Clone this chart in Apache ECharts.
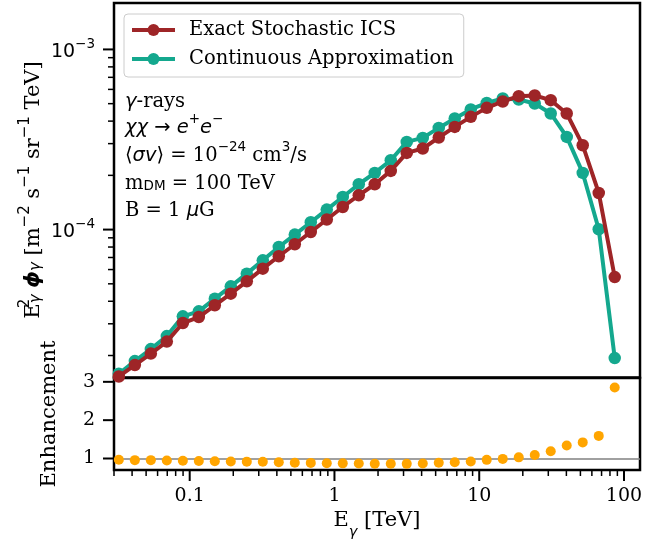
<!DOCTYPE html>
<html><head><meta charset="utf-8">
<script src="https://cdn.jsdelivr.net/npm/echarts@6/dist/echarts.min.js"></script>
<style>html,body{margin:0;padding:0;background:#fff}#c{width:667px;height:541px}</style>
</head><body><div id="c"></div>
<script>
// ---- data ----
const energies = [0.0324, 0.0418, 0.0539, 0.0695, 0.0897, 0.1156, 0.1491, 0.1923, 0.248, 0.3199, 0.4125, 0.5321, 0.6862, 0.885, 1.141, 1.472, 1.898, 2.449, 3.158, 4.074, 5.254, 6.776, 8.74, 11.27, 14.54, 18.75, 24.18, 31.19, 40.23, 51.88, 66.92, 86.3];
const exactICS = [1.53e-5, 1.77e-5, 2.05e-5, 2.39e-5, 3.03e-5, 3.27e-5, 3.80e-5, 4.41e-5, 5.16e-5, 6.07e-5, 7.11e-5, 8.29e-5, 9.70e-5, 1.137e-4, 1.335e-4, 1.551e-4, 1.785e-4, 2.117e-4, 2.665e-4, 2.818e-4, 3.244e-4, 3.715e-4, 4.223e-4, 4.738e-4, 5.141e-4, 5.503e-4, 5.552e-4, 5.227e-4, 4.41e-4, 2.94e-4, 1.597e-4, 5.45e-5];
const continuousApprox = [1.585e-5, 1.862e-5, 2.172e-5, 2.563e-5, 3.299e-5, 3.516e-5, 4.136e-5, 4.842e-5, 5.694e-5, 6.751e-5, 8.003e-5, 9.38e-5, 1.098e-4, 1.291e-4, 1.517e-4, 1.785e-4, 2.063e-4, 2.427e-4, 3.066e-4, 3.228e-4, 3.667e-4, 4.137e-4, 4.642e-4, 5.05e-4, 5.343e-4, 5.275e-4, 5.012e-4, 4.41e-4, 3.269e-4, 2.063e-4, 1.004e-4, 1.935e-5];
const enhancement = [0.966, 0.957, 0.957, 0.95, 0.94, 0.935, 0.93, 0.92, 0.918, 0.915, 0.9, 0.89, 0.885, 0.875, 0.873, 0.868, 0.865, 0.862, 0.86, 0.87, 0.89, 0.9, 0.92, 0.965, 0.99, 1.03, 1.09, 1.19, 1.34, 1.42, 1.59, 2.85];
const seriesNames = ['Exact Stochastic ICS', 'Continuous Approximation'];
const xMajorTicks = [0.1, 1, 10, 100];
const xMinorTicks = [0.03, 0.04, 0.05, 0.06, 0.07, 0.08, 0.09, 0.2, 0.3, 0.4, 0.5, 0.6, 0.7, 0.8, 0.9, 2, 3, 4, 5, 6, 7, 8, 9, 20, 30, 40, 50, 60, 70, 80, 90];
const yMajorTicks = [1e-4, 1e-3];
const yMinorTicks = [2e-5, 3e-5, 4e-5, 5e-5, 6e-5, 7e-5, 8e-5, 9e-5, 2e-4, 3e-4, 4e-4, 5e-4, 6e-4, 7e-4, 8e-4, 9e-4];
const enhTicks = [1, 2, 3];

const X_MIN = 0.03, X_MAX = 129;
const Y_MIN = 1.51e-5, Y_MAX = 1.81e-3;
const E_MIN = 0.7, E_MAX = 3.1;

const RED = '#9e2527';
const TEAL = '#14a88e';
const ORANGE = '#ffa500';
const SERIF = 'DejaVu Serif';
const SANS = 'DejaVu Sans';

function tickSeries(xi, yi, data, dir, len, w) {
  return {
    type: 'custom', xAxisIndex: xi, yAxisIndex: yi, silent: true, clip: false, z: 20,
    data: data,
    renderItem: function (params, api) {
      const p = api.coord([api.value(0), api.value(1)]);
      const x2 = dir === 'down' ? p[0] : p[0] - len;
      const y2 = dir === 'down' ? p[1] + len : p[1];
      return { type: 'line', shape: { x1: p[0], y1: p[1], x2: x2, y2: y2 }, style: { stroke: '#000', lineWidth: w } };
    }
  };
}

const chart = echarts.init(document.getElementById('c'), null, { renderer: 'canvas' });

const richMath = {
  r: { fontFamily: SERIF, fontSize: 19.5, color: '#000', lineHeight: 25, verticalAlign: 'bottom' },
  i: { fontFamily: SANS, fontStyle: 'italic', fontSize: 19.5, color: '#000', lineHeight: 25, verticalAlign: 'bottom' },
  n: { fontFamily: SANS, fontSize: 19.5, color: '#000', lineHeight: 25, verticalAlign: 'bottom' },
  sup: { fontFamily: SANS, fontSize: 13.5, color: '#000', lineHeight: 14, verticalAlign: 'top' },
  sub: { fontFamily: SANS, fontSize: 13.5, color: '#000', lineHeight: 12, verticalAlign: 'bottom' }
};

const option = {
  animation: false,
  backgroundColor: '#fff',
  grid: [
    { left: 114, top: 3, width: 526, height: 374.5, show: true, borderColor: '#000', borderWidth: 2.5, backgroundColor: 'transparent', containLabel: false },
    { left: 114, top: 378, width: 526, height: 92.5, show: true, borderColor: '#000', borderWidth: 2.5, backgroundColor: 'transparent', containLabel: false }
  ],
  xAxis: [
    { type: 'log', gridIndex: 0, min: X_MIN, max: X_MAX, axisLine: { show: false }, axisTick: { show: false }, axisLabel: { show: false }, splitLine: { show: false } },
    {
      type: 'log', gridIndex: 1, min: X_MIN, max: X_MAX,
      axisLine: { show: false }, axisTick: { show: false }, splitLine: { show: false },
      axisLabel: { fontFamily: SERIF, fontSize: 19, color: '#000', margin: 17, showMinLabel: false, showMaxLabel: false,
        formatter: function (v) { return String(+(+v).toPrecision(6)); } },
      name: '{r|E}{s|γ}{r| [TeV]}', nameLocation: 'middle', nameGap: 40,
      nameTextStyle: { rich: {
        r: { fontFamily: SERIF, fontSize: 21, color: '#000', lineHeight: 26, verticalAlign: 'top' },
        s: { fontFamily: SANS, fontStyle: 'italic', fontSize: 14.5, color: '#000', lineHeight: 30, verticalAlign: 'bottom' }
      } }
    }
  ],
  yAxis: [
    {
      type: 'log', gridIndex: 0, min: Y_MIN, max: Y_MAX,
      axisLine: { show: false }, axisTick: { show: false }, splitLine: { show: false },
      axisLabel: { margin: 19, showMinLabel: false, showMaxLabel: false,
        formatter: function (v) { const p = Math.round(Math.log10(v)); return '{b|10}{s|' + (p < 0 ? '−' : '') + Math.abs(p) + '}'; },
        rich: {
          b: { fontFamily: SANS, fontSize: 19, color: '#000', lineHeight: 24, verticalAlign: 'bottom' },
          s: { fontFamily: SANS, fontSize: 13.5, color: '#000', lineHeight: 14, verticalAlign: 'top' }
        } }
    },
    {
      type: 'value', gridIndex: 1, min: E_MIN, max: E_MAX,
      axisLine: { show: false }, axisTick: { show: false }, splitLine: { show: false },
      axisLabel: { customValues: enhTicks, margin: 19, fontFamily: SERIF, fontSize: 19, color: '#000' }
    }
  ],
  legend: {
    data: seriesNames,
    orient: 'vertical', left: 124, top: 14,
    padding: [6, 10, 8, 6], itemWidth: 43, itemHeight: 15, itemGap: 9,
    backgroundColor: 'rgba(255,255,255,0.8)', borderColor: '#cccccc', borderWidth: 1, borderRadius: 4,
    lineStyle: { width: 4 },
    textStyle: { fontFamily: SERIF, fontSize: 19.5, color: '#000', lineHeight: 15, padding: [0, 0, 0, 9] }
  },
  graphic: [
    { type: 'text', x: 125, y: 99, style: { text: '{i|γ}{r|-rays}', verticalAlign: 'middle', rich: richMath } },
    { type: 'text', x: 125, y: 125, style: { text: '{i|χχ}{n| → }{i|e}{sup|+}{i|e}{sup|−}', verticalAlign: 'middle', rich: richMath } },
    { type: 'text', x: 125, y: 153, style: { text: '{n|⟨}{i|σv}{n|⟩}{r| = 10}{sup|−24}{r| cm}{sup|3}{r|/s}', verticalAlign: 'middle', rich: richMath } },
    { type: 'text', x: 125, y: 181, style: { text: '{r|m}{sub|DM}{r| = 100 TeV}', verticalAlign: 'middle', rich: richMath } },
    { type: 'text', x: 125, y: 208, style: { text: '{r|B = 1 }{i|μ}{r|G}', verticalAlign: 'middle', rich: richMath } },
    { type: 'text', x: 31, y: 190, rotation: Math.PI / 2,
      style: { text: '{r|E}{sup0|2}{sub|γ}{r| }{phi|ϕ}{sub|γ}{r| [m}{sup|−2}{r| s}{sup|−1}{r| sr}{sup|−1}{r| TeV]}', align: 'center', verticalAlign: 'middle',
        rich: {
          r: { fontFamily: SERIF, fontSize: 21, color: '#000', lineHeight: 26, verticalAlign: 'bottom' },
          phi: { fontFamily: SANS, fontStyle: 'italic', fontWeight: 'bold', fontSize: 21, color: '#000', lineHeight: 26, verticalAlign: 'bottom' },
          sup: { fontFamily: SANS, fontSize: 15, color: '#000', lineHeight: 16, verticalAlign: 'top' },
          sup0: { fontFamily: SANS, fontSize: 15, color: '#000', lineHeight: 16, verticalAlign: 'top', width: 0 },
          sub: { fontFamily: SANS, fontStyle: 'italic', fontSize: 15, color: '#000', lineHeight: 12, verticalAlign: 'bottom' }
        } } },
    { type: 'text', x: 50, y: 414, rotation: Math.PI / 2,
      style: { text: 'Enhancement', align: 'center', verticalAlign: 'middle', fontFamily: SERIF, fontSize: 21, fill: '#000' } }
  ],
  series: [
    { name: seriesNames[1], type: 'line', xAxisIndex: 0, yAxisIndex: 0,
      data: energies.map((e, i) => [e, continuousApprox[i]]),
      symbol: 'circle', symbolSize: 12.5, showSymbol: true,
      lineStyle: { width: 4, color: TEAL }, itemStyle: { color: TEAL }, z: 3 },
    { name: seriesNames[0], type: 'line', xAxisIndex: 0, yAxisIndex: 0,
      data: energies.map((e, i) => [e, exactICS[i]]),
      symbol: 'circle', symbolSize: 12.5, showSymbol: true,
      lineStyle: { width: 4, color: RED }, itemStyle: { color: RED }, z: 4 },
    { name: 'Enhancement', type: 'scatter', xAxisIndex: 1, yAxisIndex: 1,
      data: energies.map((e, i) => [e, enhancement[i]]),
      symbol: 'circle', symbolSize: 10, itemStyle: { color: ORANGE, opacity: 1 }, z: 5,
      markLine: { silent: true, symbol: 'none', label: { show: false }, animation: false,
        lineStyle: { color: '#808080', width: 1.5, type: 'solid' }, data: [{ yAxis: 1 }] } },
    tickSeries(1, 1, xMajorTicks.map(v => [v, E_MIN]), 'down', 11, 2),
    tickSeries(1, 1, xMinorTicks.map(v => [v, E_MIN]), 'down', 6, 1.5),
    tickSeries(0, 0, yMajorTicks.map(v => [X_MIN, v]), 'left', 11, 2),
    tickSeries(0, 0, yMinorTicks.map(v => [X_MIN, v]), 'left', 6, 1.5),
    tickSeries(1, 1, enhTicks.map(v => [X_MIN, v]), 'left', 11, 2)
  ]
};
chart.setOption(option);
</script>
</body></html>
